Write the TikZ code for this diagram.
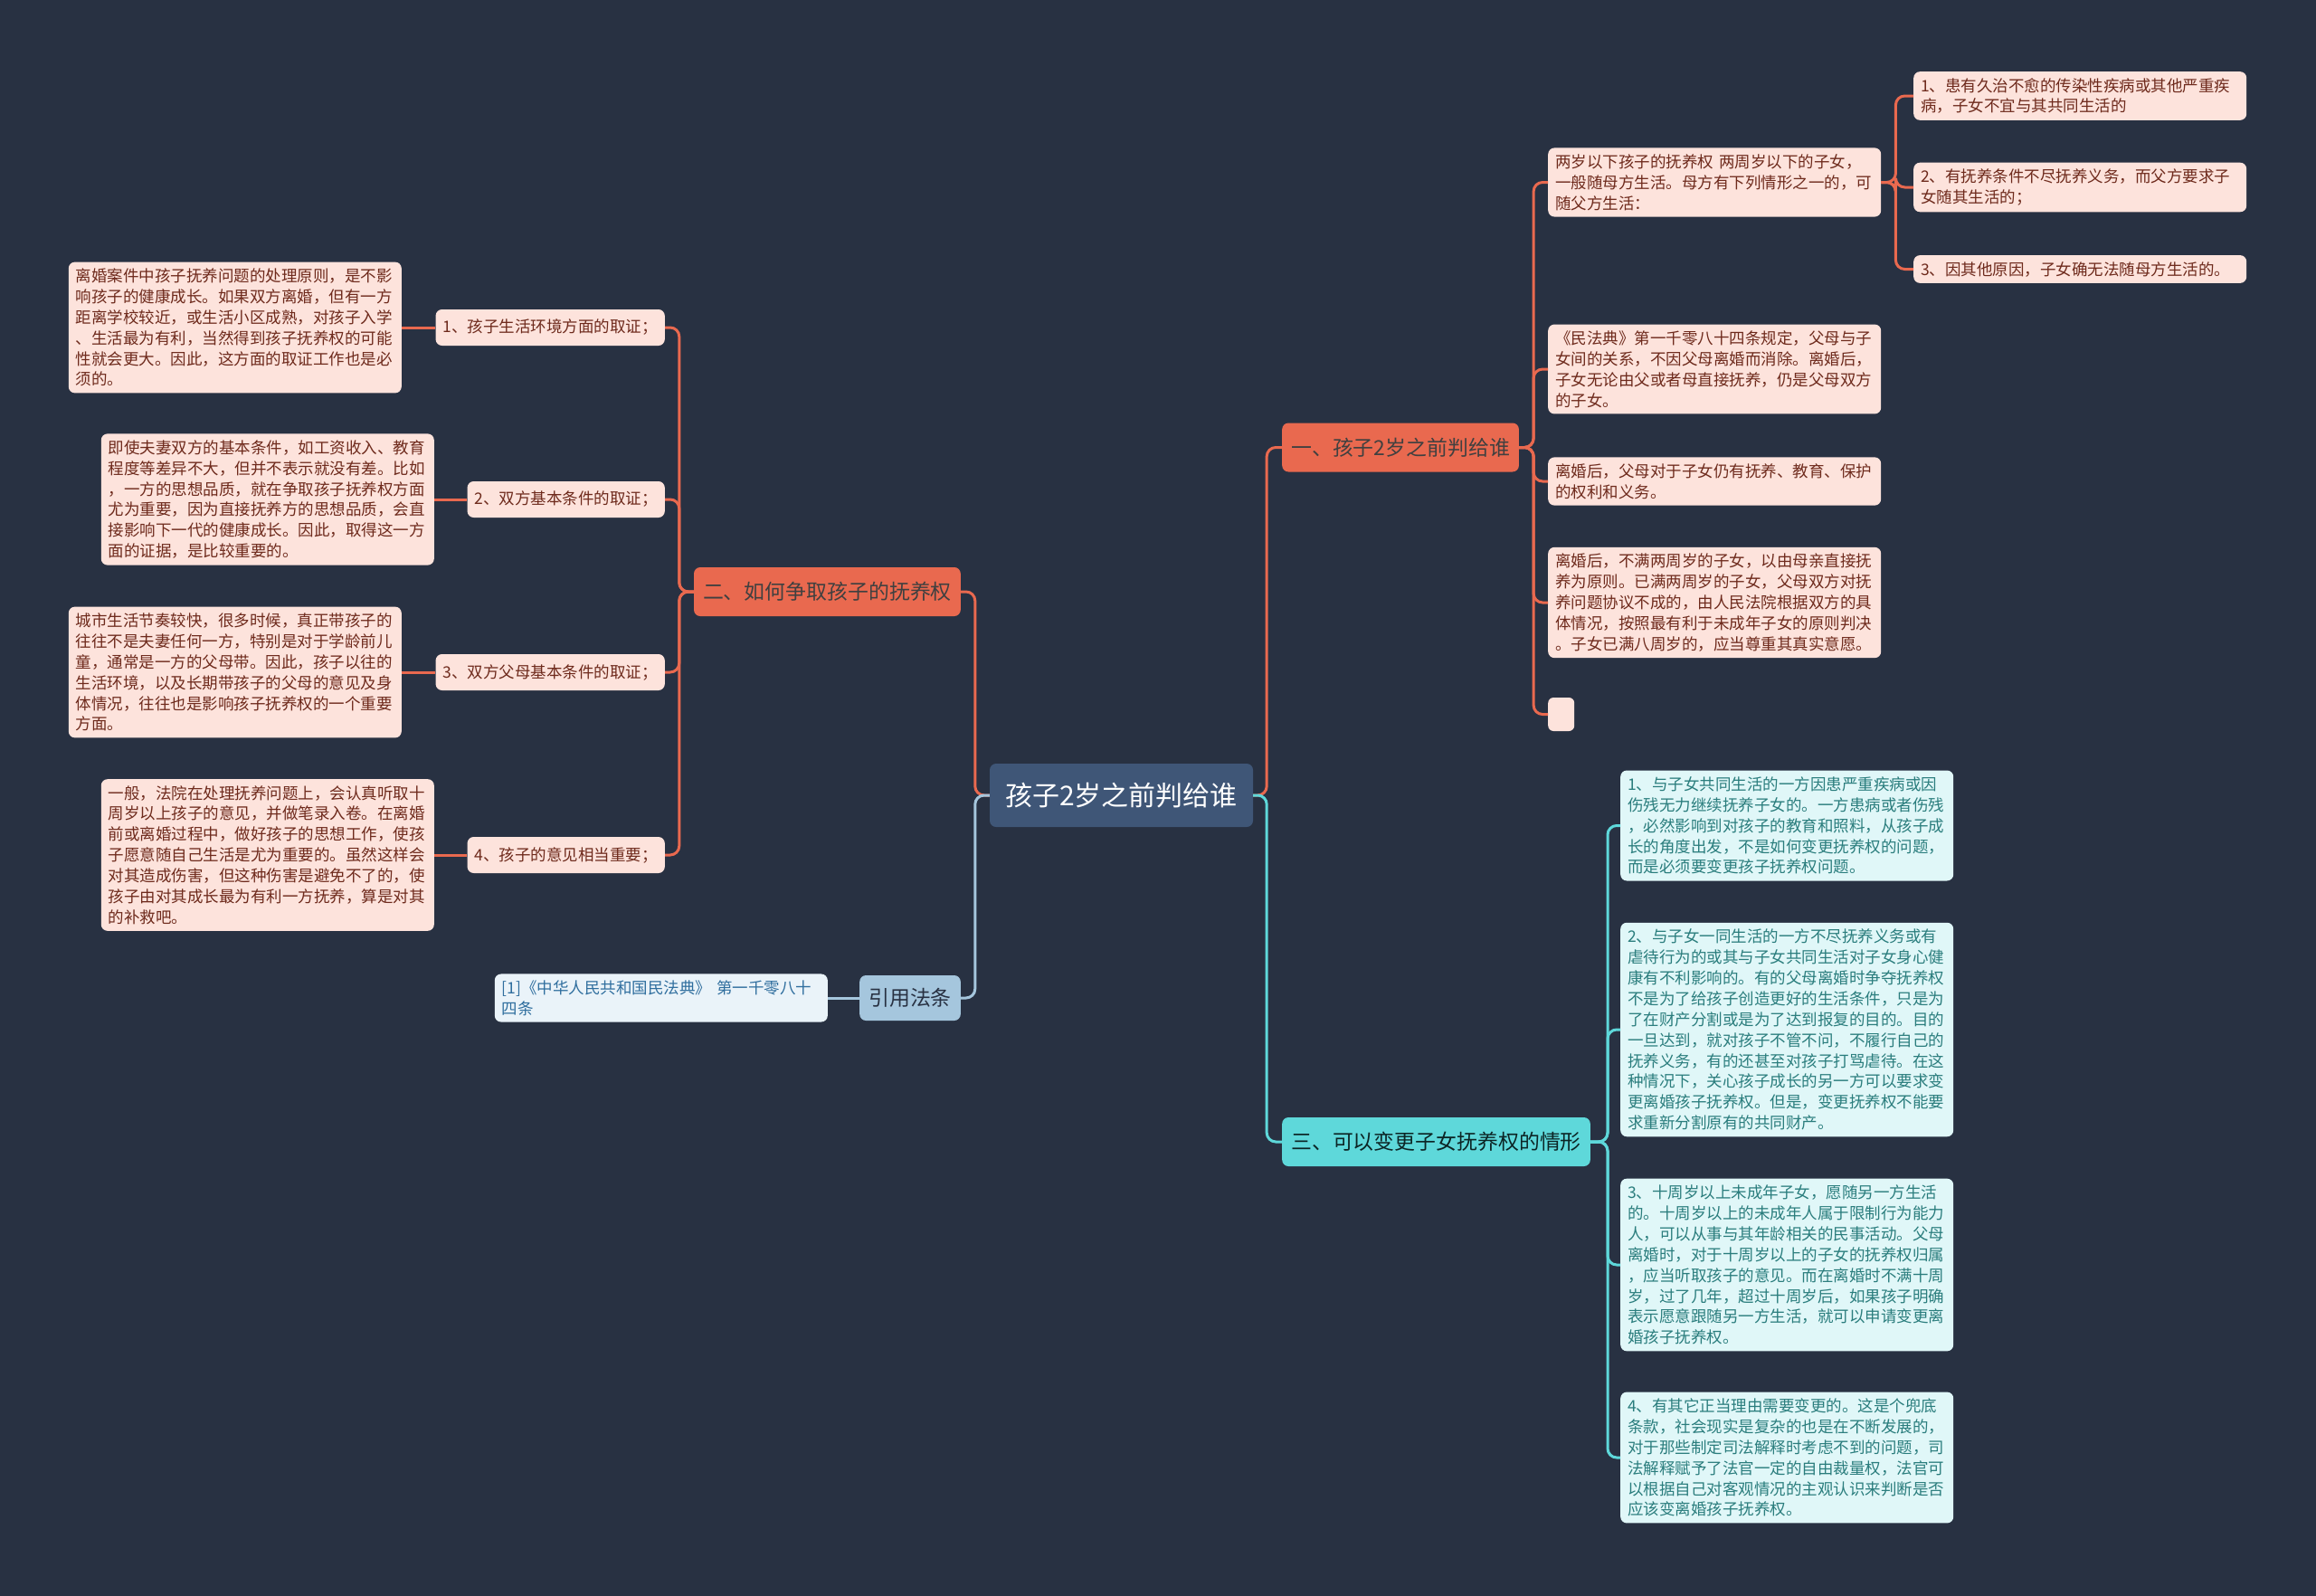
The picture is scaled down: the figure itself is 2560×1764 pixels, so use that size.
\documentclass[tikz,border=0pt]{standalone}
\usepackage{fontspec}
\setmainfont{Noto Sans CJK SC}
\definecolor{bgdark}{HTML}{283142}
\definecolor{rootblue}{HTML}{3F5677}
\definecolor{orangebr}{HTML}{E9694F}
\definecolor{pinkleaf}{HTML}{FDE3DC}
\definecolor{pinktext}{HTML}{6E2A1C}
\definecolor{cyanbr}{HTML}{5ED8DA}
\definecolor{cyanleaf}{HTML}{E0F7F8}
\definecolor{cyantext}{HTML}{2A7D7D}
\definecolor{bluebr}{HTML}{A5C6DD}
\definecolor{blueleaf}{HTML}{EAF3F9}
\definecolor{bluetext}{HTML}{2F6E9E}
\begin{document}
\begin{tikzpicture}[x=1pt,y=-1pt,
  root/.style={fill=rootblue,text=white,rounded corners=7pt,minimum width=291pt,minimum height=70pt,font=\fontsize{30}{36}\selectfont},
  branch/.style={fill=#1,text=black!75,rounded corners=7pt,inner xsep=10pt,minimum height=54pt,font=\fontsize{22.9}{27}\selectfont},
  sub/.style={fill=pinkleaf,text=pinktext,rounded corners=7pt,inner xsep=8pt,minimum height=40pt,font=\fontsize{17.5}{22.9}\selectfont},
  leaf/.style={fill=#1,rounded corners=7pt,align=left,text width=352pt,inner xsep=8pt,inner ysep=7pt,font=\fontsize{17.5}{22.9}\selectfont},
  leaf/.default=pinkleaf,
  link/.style={draw=#1,line width=3pt,rounded corners=10pt}]
\useasboundingbox (0,0) rectangle (2560,1764);
\fill[bgdark] (0,0) rectangle (2560,1764);

\node [root] (root) at (1239.5,879) {孩子2岁之前判给谁};

\node [branch=orangebr,anchor=west] (b1) at (1417,494.5) {一、孩子2岁之前判给谁};
\node [branch=orangebr,anchor=east] (b2) at (1062,654) {二、如何争取孩子的抚养权};
\node [branch=bluebr,anchor=east,minimum height=50pt,text=bgdark] (law) at (1062,1103) {引用法条};
\node [branch=cyanbr,anchor=west,text=black!70!cyantext] (b3) at (1417,1262) {三、可以变更子女抚养权的情形};

% left side
\node [sub,anchor=east] (s1) at (735,362) {1、孩子生活环境方面的取证；};
\node [sub,anchor=east] (s2) at (735,552) {2、双方基本条件的取证；};
\node [sub,anchor=east] (s3) at (735,743) {3、双方父母基本条件的取证；};
\node [sub,anchor=east] (s4) at (735,945) {4、孩子的意见相当重要；};

\node [leaf,text=pinktext,anchor=east] (l1) at (444,362) {离婚案件中孩子抚养问题的处理原则，是不影\\响孩子的健康成长。如果双方离婚，但有一方\\距离学校较近，或生活小区成熟，对孩子入学\\、生活最为有利，当然得到孩子抚养权的可能\\性就会更大。因此，这方面的取证工作也是必\\须的。};
\node [leaf,text=pinktext,anchor=east] (l2) at (480,552) {即使夫妻双方的基本条件，如工资收入、教育\\程度等差异不大，但并不表示就没有差。比如\\，一方的思想品质，就在争取孩子抚养权方面\\尤为重要，因为直接抚养方的思想品质，会直\\接影响下一代的健康成长。因此，取得这一方\\面的证据，是比较重要的。};
\node [leaf,text=pinktext,anchor=east] (l3) at (444,743) {城市生活节奏较快，很多时候，真正带孩子的\\往往不是夫妻任何一方，特别是对于学龄前儿\\童，通常是一方的父母带。因此，孩子以往的\\生活环境，以及长期带孩子的父母的意见及身\\体情况，往往也是影响孩子抚养权的一个重要\\方面。};
\node [leaf,text=pinktext,anchor=east] (l4) at (480,945) {一般，法院在处理抚养问题上，会认真听取十\\周岁以上孩子的意见，并做笔录入卷。在离婚\\前或离婚过程中，做好孩子的思想工作，使孩\\子愿意随自己生活是尤为重要的。虽然这样会\\对其造成伤害，但这种伤害是避免不了的，使\\孩子由对其成长最为有利一方抚养，算是对其\\的补救吧。};
\node [leaf=blueleaf,text=bluetext,anchor=east] (lawtext) at (915,1103) {[1]《中华人民共和国民法典》 第一千零八十\\四条};

% right side
\node [leaf,text=pinktext,anchor=west] (r1) at (1711,201.5) {两岁以下孩子的抚养权 两周岁以下的子女，\\一般随母方生活。母方有下列情形之一的，可\\随父方生活：};
\node [leaf,text=pinktext,anchor=west] (q1) at (2115,106) {1、患有久治不愈的传染性疾病或其他严重疾\\病，子女不宜与其共同生活的};
\node [leaf,text=pinktext,anchor=west] (q2) at (2115,207) {2、有抚养条件不尽抚养义务，而父方要求子\\女随其生活的；};
\node [leaf,text=pinktext,anchor=west] (q3) at (2115,297.5) {3、因其他原因，子女确无法随母方生活的。};
\node [leaf,text=pinktext,anchor=west] (r2) at (1711,408) {《民法典》第一千零八十四条规定，父母与子\\女间的关系，不因父母离婚而消除。离婚后，\\子女无论由父或者母直接抚养，仍是父母双方\\的子女。};
\node [leaf,text=pinktext,anchor=west] (r3) at (1711,532) {离婚后，父母对于子女仍有抚养、教育、保护\\的权利和义务。};
\node [leaf,text=pinktext,anchor=west] (r4) at (1711,666) {离婚后，不满两周岁的子女，以由母亲直接抚\\养为原则。已满两周岁的子女，父母双方对抚\\养问题协议不成的，由人民法院根据双方的具\\体情况，按照最有利于未成年子女的原则判决\\。子女已满八周岁的，应当尊重其真实意愿。};
\node [fill=pinkleaf,rounded corners=6pt,minimum width=29pt,minimum height=37pt,inner sep=0pt,anchor=west] (r5) at (1711,789.5) {};

\node [leaf=cyanleaf,text=cyantext,anchor=west] (c1) at (1791,912.5) {1、与子女共同生活的一方因患严重疾病或因\\伤残无力继续抚养子女的。一方患病或者伤残\\，必然影响到对孩子的教育和照料，从孩子成\\长的角度出发，不是如何变更抚养权的问题，\\而是必须要变更孩子抚养权问题。};
\node [leaf=cyanleaf,text=cyantext,anchor=west] (c2) at (1791,1138) {2、与子女一同生活的一方不尽抚养义务或有\\虐待行为的或其与子女共同生活对子女身心健\\康有不利影响的。有的父母离婚时争夺抚养权\\不是为了给孩子创造更好的生活条件，只是为\\了在财产分割或是为了达到报复的目的。目的\\一旦达到，就对孩子不管不问，不履行自己的\\抚养义务，有的还甚至对孩子打骂虐待。在这\\种情况下，关心孩子成长的另一方可以要求变\\更离婚孩子抚养权。但是，变更抚养权不能要\\求重新分割原有的共同财产。};
\node [leaf=cyanleaf,text=cyantext,anchor=west] (c3) at (1791,1398) {3、十周岁以上未成年子女，愿随另一方生活\\的。十周岁以上的未成年人属于限制行为能力\\人，可以从事与其年龄相关的民事活动。父母\\离婚时，对于十周岁以上的子女的抚养权归属\\，应当听取孩子的意见。而在离婚时不满十周\\岁，过了几年，超过十周岁后，如果孩子明确\\表示愿意跟随另一方生活，就可以申请变更离\\婚孩子抚养权。};
\node [leaf=cyanleaf,text=cyantext,anchor=west] (c4) at (1791,1611) {4、有其它正当理由需要变更的。这是个兜底\\条款，社会现实是复杂的也是在不断发展的，\\对于那些制定司法解释时考虑不到的问题，司\\法解释赋予了法官一定的自由裁量权，法官可\\以根据自己对客观情况的主观认识来判断是否\\应该变离婚孩子抚养权。};

% connectors
\draw [link=orangebr] (root.west) -- ++(-16,0) |- (b2.east);
\draw [link=bluebr] (root.west) -- ++(-16,0) |- (law.east);
\draw [link=orangebr] (root.east) -- ++(15,0) |- (b1.west);
\draw [link=cyanbr] (root.east) -- ++(15,0) |- (b3.west);
\foreach \s in {s1,s2,s3,s4}
  \draw [link=orangebr] (b2.west) -- ++(-16,0) |- (\s.east);
\foreach \s/\l in {s1/l1,s2/l2,s3/l3,s4/l4}
  \draw [link=orangebr] (\s.west) -- (\l.east);
\draw [link=bluebr] (law.west) -- (lawtext.east);
\foreach \r in {r1,r2,r3,r4,r5}
  \draw [link=orangebr] (b1.east) -- ++(16,0) |- (\r.west);
\foreach \q in {q1,q2,q3}
  \draw [link=orangebr] (r1.east) -- ++(16,0) |- (\q.west);
\foreach \c in {c1,c2,c3,c4}
  \draw [link=cyanbr] (b3.east) -- ++(19,0) |- (\c.west);
\end{tikzpicture}
\end{document}
